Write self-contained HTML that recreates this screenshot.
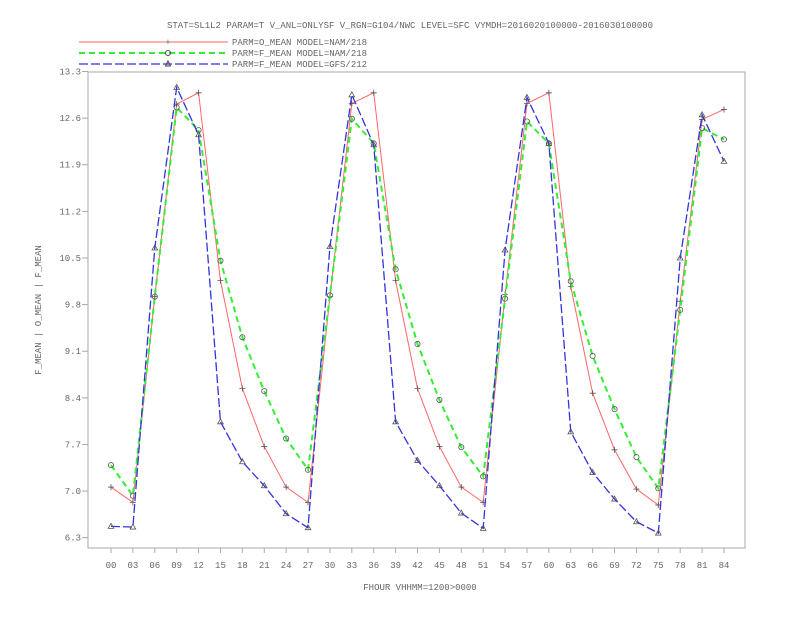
<!DOCTYPE html>
<html><head><meta charset="utf-8"><style>
body{margin:0;background:#fff;}
svg text{font-family:"Liberation Mono",monospace;font-size:9px;fill:#666;}
</style></head><body>
<svg id="chart" width="792" height="612" xmlns="http://www.w3.org/2000/svg">
<text x="410" y="28" text-anchor="middle">STAT=SL1L2 PARAM=T V_ANL=ONLYSF V_RGN=G104/NWC LEVEL=SFC VYMDH=2016020100000-2016030100000</text>
<g>
<g><line x1="79" y1="42" x2="228" y2="42" stroke="#f66" stroke-width="1"/><text x="168" y="45" text-anchor="middle">+</text><text x="232" y="45">PARM=O_MEAN MODEL=NAM/218</text></g>
<g><line x1="79" y1="53" x2="228" y2="53" stroke="#3e3" stroke-width="2" stroke-dasharray="6,4"/><circle cx="168" cy="53" r="2.5" fill="none" stroke="#444"/><text x="232" y="56">PARM=F_MEAN MODEL=NAM/218</text></g>
<g><line x1="79" y1="64" x2="228" y2="64" stroke="#33d" stroke-width="1.3" stroke-dasharray="9,3"/><polygon points="168,61 165.5,66 170.5,66" fill="none" stroke="#444"/><text x="232" y="67">PARM=F_MEAN MODEL=GFS/212</text></g>
</g>
<rect x="88" y="72" width="657" height="476" fill="none" stroke="#aaa"/>
<g id="yaxis"></g>
<g id="xaxis"></g>
<text x="420" y="590" text-anchor="middle">FHOUR VHHMM=1200&gt;0000</text>
<text transform="translate(41,310) rotate(-90)" text-anchor="middle">F_MEAN | O_MEAN | F_MEAN</text>
<g id="series"></g>
</svg>
<script>
const hours=["00","03","06","09","12","15","18","21","24","27","30","33","36","39","42","45","48","51","54","57","60","63","66","69","72","75","78","81","84"];
const yTicks=["6.3","7.0","7.7","8.4","9.1","9.8","10.5","11.2","11.9","12.6","13.3"];
const oMeanNam=[7.06,6.83,9.92,12.81,12.98,10.16,8.54,7.67,7.06,6.83,9.92,12.82,12.98,10.16,8.54,7.67,7.06,6.83,9.95,12.82,12.98,10.07,8.47,7.62,7.03,6.79,9.85,12.58,12.73];
const fMeanNam=[7.39,6.93,9.92,12.76,12.42,10.46,9.31,8.50,7.79,7.32,9.94,12.59,12.22,10.33,9.21,8.37,7.66,7.22,9.89,12.55,12.22,10.15,9.03,8.23,7.51,7.04,9.72,12.45,12.28];
const fMeanGfs=[6.47,6.46,10.65,13.06,12.35,8.04,7.44,7.08,6.66,6.45,10.67,12.95,12.2,8.04,7.46,7.08,6.67,6.44,10.62,12.91,12.22,7.89,7.28,6.88,6.54,6.37,10.5,12.65,11.95];
const NS="http://www.w3.org/2000/svg";
const xs=i=>111+i*(613/28);
const ys=v=>537.7-(v-6.3)*66.6;
function mk(t,a,p){const e=document.createElementNS(NS,t);for(const k in a)e.setAttribute(k,a[k]);p.appendChild(e);return e;}
const ya=document.getElementById('yaxis');
yTicks.forEach(t=>{const y=ys(parseFloat(t));
 const l=mk('line',{x1:82,x2:88,y1:y,y2:y,stroke:'#aaa'},ya);
 
 
 const tx=mk('text',{x:81,y:y+3,'text-anchor':'end'},ya);tx.textContent=t;
 
 });
const xa=document.getElementById('xaxis');
hours.forEach((h,i)=>{const x=xs(i);
 const l=mk('line',{x1:x,x2:x,y1:548,y2:553,stroke:'#aaa'},xa);
 
 
 const tx=mk('text',{x:x,y:568,'text-anchor':'middle'},xa);tx.textContent=h;
 
 });
const sg=document.getElementById('series');
function series(vals,name,stroke,w,dash,marker){
 const pts=vals.map((v,i)=>xs(i)+','+ys(v)).join(' ');
 const pl=mk('polyline',{points:pts,fill:'none',stroke:stroke,'stroke-width':w},sg);
 if(dash)pl.setAttribute('stroke-dasharray',dash);
 
 
 vals.forEach((v,i)=>{const x=xs(i),y=ys(v);let m;
  if(marker==='plus')m=mk('path',{d:`M${x-3},${y}H${x+3}M${x},${y-3}V${y+3}`,stroke:'#555','stroke-width':0.8},sg);
  else if(marker==='circle')m=mk('circle',{cx:x,cy:y,r:2.6,fill:'none',stroke:'#555','stroke-width':0.8},sg);
  else m=mk('polygon',{points:`${x},${y-3} ${x-2.8},${y+2} ${x+2.8},${y+2}`,fill:'none',stroke:'#555','stroke-width':0.8},sg);
  
  });
}
series(oMeanNam,'o-mean-nam','#f66',1,null,'plus');
series(fMeanNam,'f-mean-nam','#3e3',2,'6,4','circle');
series(fMeanGfs,'f-mean-gfs','#33d',1.3,'9,3','tri');
</script>
</body></html>
